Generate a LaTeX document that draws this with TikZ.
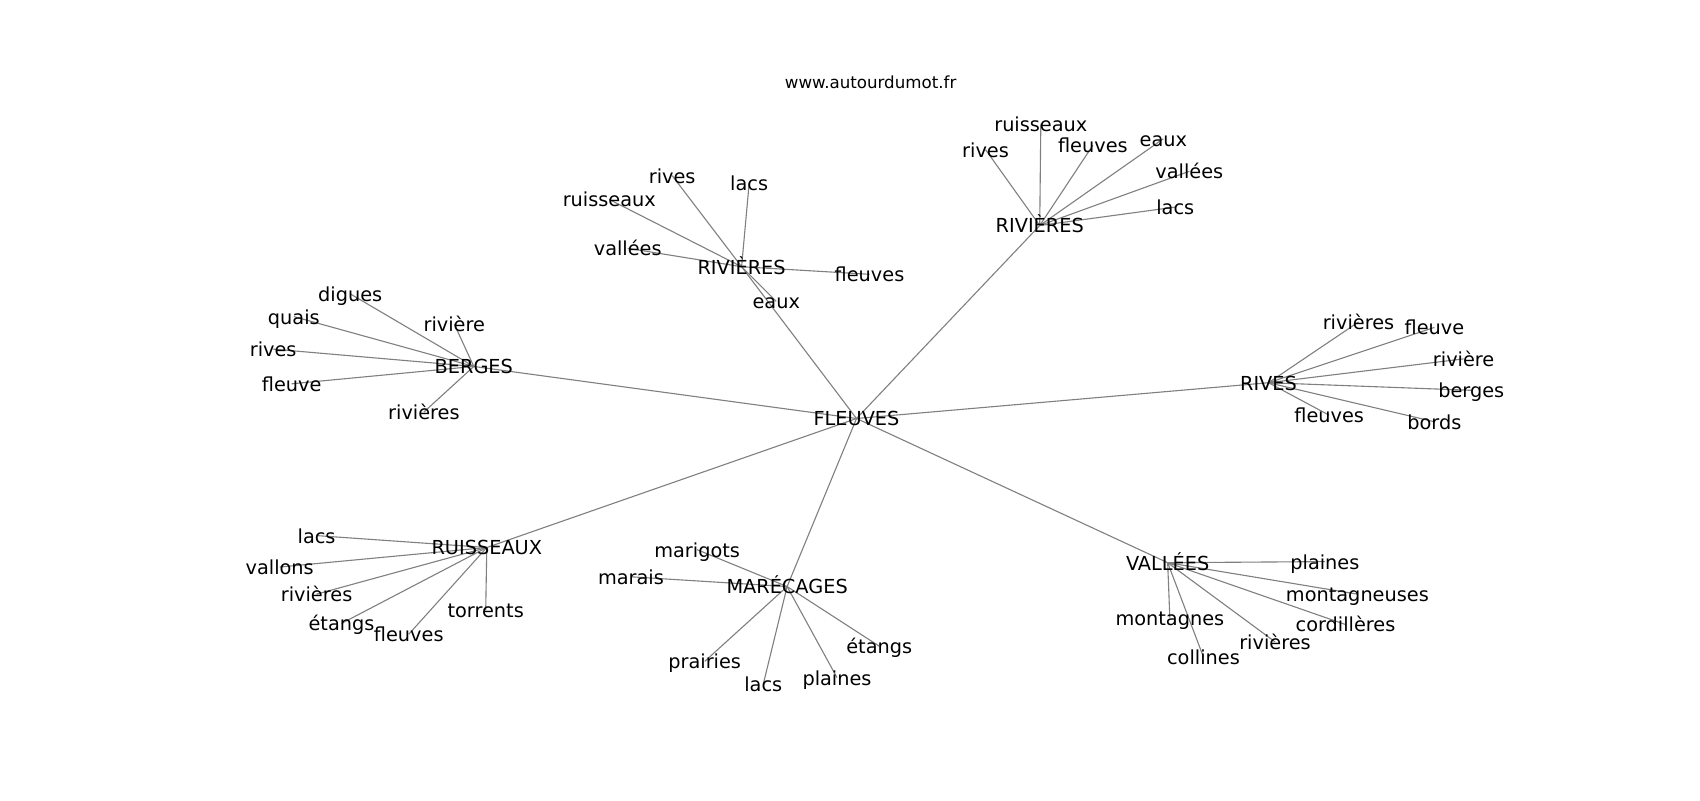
\documentclass[tikz,border=0pt]{standalone}
\usepackage{fontspec}
\setmainfont{DejaVu Sans}
\usetikzlibrary{backgrounds}
\begin{document}
\begin{tikzpicture}[x=0.7806pt,y=-0.7806pt,
  lbl/.style={inner sep=0pt, font=\fontsize{13.9}{16}\selectfont, text height=14pt, text depth=3.3pt},
  ttl/.style={inner sep=0pt, font=\fontsize{12}{14}\selectfont},
  edge/.style={draw=gray, line width=0.8pt}]
\useasboundingbox (0,0) rectangle (1568,737.9);
\node[ttl] (title) at (803,76) {www.autourdumot.fr};
% hub
\node[lbl] (fl) at (790,386) {FLEUVES};
% top-left RIVIERES
\node[lbl] (rl) at (684,246) {RIVIÈRES};
\node[lbl] (rl1) at (620,162) {rives};
\node[lbl] (rl2) at (691,169) {lacs};
\node[lbl] (rl3) at (562,184) {ruisseaux};
\node[lbl] (rl4) at (579,229) {vallées};
\node[lbl] (rl5) at (802,253) {fleuves};
\node[lbl] (rl6) at (716,278) {eaux};
% top-right RIVIERES
\node[lbl] (rr) at (959,208) {RIVIÈRES};
\node[lbl] (rr1) at (960,114) {ruisseaux};
\node[lbl] (rr2) at (909,138) {rives};
\node[lbl] (rr3) at (1008,134) {fleuves};
\node[lbl] (rr4) at (1073,128) {eaux};
\node[lbl] (rr5) at (1097,158) {vallées};
\node[lbl] (rr6) at (1084,191) {lacs};
% BERGES
\node[lbl] (be) at (437,338) {BERGES};
\node[lbl] (be1) at (323,271) {digues};
\node[lbl] (be2) at (271,292) {quais};
\node[lbl] (be3) at (419,299) {rivière};
\node[lbl] (be4) at (252,322) {rives};
\node[lbl] (be5) at (269,354) {fleuve};
\node[lbl] (be6) at (391,380) {rivières};
% RIVES
\node[lbl] (rv) at (1170,353) {RIVES};
\node[lbl] (rv1) at (1253,297) {rivières};
\node[lbl] (rv2) at (1323,302) {fleuve};
\node[lbl] (rv3) at (1350,331) {rivière};
\node[lbl] (rv4) at (1357,360) {berges};
\node[lbl] (rv5) at (1226,383) {fleuves};
\node[lbl] (rv6) at (1323,389) {bords};
% RUISSEAUX
\node[lbl] (ru) at (449,505) {RUISSEAUX};
\node[lbl] (ru1) at (292,494) {lacs};
\node[lbl] (ru2) at (258,523) {vallons};
\node[lbl] (ru3) at (292,548) {rivières};
\node[lbl] (ru4) at (448,563) {torrents};
\node[lbl] (ru5) at (315,575) {étangs};
\node[lbl] (ru6) at (377,585) {fleuves};
% MARECAGES
\node[lbl] (ma) at (726,541) {MARÉCAGES};
\node[lbl] (ma1) at (643,507) {marigots};
\node[lbl] (ma2) at (582,532) {marais};
\node[lbl] (ma3) at (811,596) {étangs};
\node[lbl] (ma4) at (650,610) {prairies};
\node[lbl] (ma5) at (772,625) {plaines};
\node[lbl] (ma6) at (704,631) {lacs};
% VALLEES
\node[lbl] (va) at (1077,519) {VALLÉES};
\node[lbl] (va1) at (1222,518) {plaines};
\node[lbl] (va2) at (1252,548) {montagneuses};
\node[lbl] (va3) at (1079,570) {montagnes};
\node[lbl] (va4) at (1241,576) {cordillères};
\node[lbl] (va5) at (1176,592) {rivières};
\node[lbl] (va6) at (1110,606) {collines};
\begin{scope}[on background layer]
\foreach \h in {rl,rr,be,rv,ru,ma,va} \draw[edge] (fl.center) -- (\h.center);
\foreach \h in {rl,rr,be,rv,ru,ma,va}
  \foreach \i in {1,...,6} \draw[edge] (\h.center) -- (\h\i.center);
\end{scope}
\end{tikzpicture}
\end{document}
